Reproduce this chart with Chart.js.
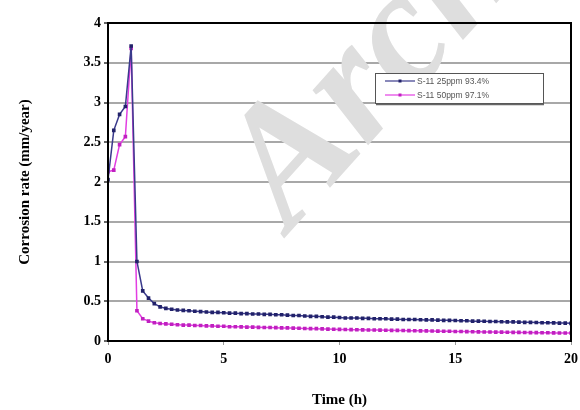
<!DOCTYPE html>
<html>
<head>
<meta charset="utf-8">
<script src="https://cdn.jsdelivr.net/npm/chart.js@4/dist/chart.umd.min.js"></script>
<style>
  html, body { margin: 0; padding: 0; background: #ffffff; }
  #wrap { width: 580px; height: 410px; }
</style>
</head>
<body>
<div id="wrap"><canvas id="c" width="580" height="410"></canvas></div>
<script>
// ---- data ----
const timeHours = [
  0, 0.25, 0.5, 0.75, 1, 1.25, 1.5, 1.75, 2, 2.25, 2.5, 2.75, 3, 3.25, 3.5, 3.75,
  4, 4.25, 4.5, 4.75, 5, 5.25, 5.5, 5.75, 6, 6.25, 6.5, 6.75, 7, 7.25, 7.5, 7.75,
  8, 8.25, 8.5, 8.75, 9, 9.25, 9.5, 9.75, 10, 10.25, 10.5, 10.75, 11, 11.25, 11.5, 11.75,
  12, 12.25, 12.5, 12.75, 13, 13.25, 13.5, 13.75, 14, 14.25, 14.5, 14.75, 15, 15.25, 15.5, 15.75,
  16, 16.25, 16.5, 16.75, 17, 17.25, 17.5, 17.75, 18, 18.25, 18.5, 18.75, 19, 19.25, 19.5, 19.75, 20
];
const rate25ppm = [
  2.03, 2.65, 2.85, 2.95, 3.71, 1.00, 0.63, 0.54, 0.47, 0.43, 0.41, 0.40, 0.39, 0.385, 0.38, 0.375,
  0.37, 0.365, 0.36, 0.36, 0.355, 0.35, 0.35, 0.345, 0.345, 0.34, 0.34, 0.335, 0.335, 0.33, 0.33, 0.325,
  0.32, 0.32, 0.315, 0.31, 0.31, 0.305, 0.30, 0.30, 0.295, 0.29, 0.29, 0.29, 0.285, 0.285, 0.28, 0.28,
  0.28, 0.275, 0.275, 0.27, 0.27, 0.27, 0.268, 0.265, 0.265, 0.262, 0.26, 0.26, 0.258, 0.255, 0.255, 0.25,
  0.25, 0.248, 0.245, 0.245, 0.242, 0.24, 0.24, 0.238, 0.235, 0.235, 0.232, 0.23, 0.23, 0.228, 0.225, 0.225, 0.222
];
const rate50ppm = [
  2.13, 2.15, 2.47, 2.57, 3.68, 0.38, 0.28, 0.25, 0.23, 0.22, 0.215, 0.21, 0.205, 0.20, 0.20, 0.195,
  0.195, 0.19, 0.19, 0.185, 0.185, 0.18, 0.18, 0.178, 0.175, 0.175, 0.172, 0.17, 0.17, 0.168, 0.165, 0.165,
  0.162, 0.16, 0.158, 0.155, 0.155, 0.152, 0.15, 0.148, 0.146, 0.145, 0.143, 0.142, 0.14, 0.139, 0.138, 0.137,
  0.135, 0.134, 0.133, 0.132, 0.13, 0.129, 0.128, 0.127, 0.125, 0.124, 0.123, 0.122, 0.12, 0.119, 0.118, 0.117,
  0.115, 0.114, 0.113, 0.112, 0.111, 0.11, 0.109, 0.108, 0.107, 0.106, 0.105, 0.104, 0.103, 0.102, 0.101, 0.10, 0.10
];
const seriesLabels = ["S-11 25ppm 93.4%", "S-11 50ppm 97.1%"];
const xTitle = "Time (h)";
const yTitle = "Corrosion rate (mm/year)";
const watermarkText = "Archive of SID";

const toPoints = (ys) => timeHours.map((t, i) => ({ x: t, y: ys[i] }));

const serif = "'Liberation Serif', 'Times New Roman', serif";

const framePlugin = {
  id: 'frame',
  beforeDatasetsDraw(chart) {
    const { ctx } = chart;
    // watermark
    ctx.save();
    ctx.translate(290, 232);
    ctx.rotate(-48 * Math.PI / 180);
    ctx.font = "italic bold 170px " + serif;
    ctx.fillStyle = "#dedede";
    ctx.textBaseline = "alphabetic";
    ctx.fillText(watermarkText, 0, 0);
    ctx.restore();
  },
  afterDraw(chart) {
    const { ctx, chartArea: a } = chart;
    ctx.save();
    ctx.strokeStyle = "#000";
    ctx.lineWidth = 2;
    ctx.strokeRect(a.left, a.top, a.right - a.left, a.bottom - a.top);
    ctx.restore();

    // legend box
    const bx = 375, by = 73, bw = 168, bh = 30;
    ctx.save();
    ctx.fillStyle = "#fff";
    ctx.fillRect(bx, by, bw, bh);
    ctx.strokeStyle = "#555";
    ctx.lineWidth = 1;
    ctx.strokeRect(bx + 0.5, by + 0.5, bw, bh);
    ctx.strokeStyle = "#666";
    ctx.lineWidth = 1.5;
    ctx.beginPath();
    ctx.moveTo(bx + 1, by + bh + 1.5);
    ctx.lineTo(bx + bw + 1, by + bh + 1.5);
    ctx.stroke();
    chart.data.datasets.forEach((ds, i) => {
      const y = by + 8 + i * 14;
      ctx.strokeStyle = ds.borderColor;
      ctx.lineWidth = 1.2;
      ctx.beginPath();
      ctx.moveTo(bx + 10, y);
      ctx.lineTo(bx + 40, y);
      ctx.stroke();
      ctx.fillStyle = ds.pointBackgroundColor;
      ctx.fillRect(bx + 23.5, y - 1.5, 3, 3);
      ctx.fillStyle = "#555";
      ctx.font = "8.5px 'Liberation Sans', Arial, sans-serif";
      ctx.textBaseline = "middle";
      ctx.fillText(ds.label, bx + 42, y + 0.5);
    });
    ctx.restore();
  }
};

new Chart(document.getElementById('c'), {
  type: 'line',
  data: {
    datasets: [
      {
        label: seriesLabels[0],
        data: toPoints(rate25ppm),
        borderColor: "#3a3a8c",
        backgroundColor: "#22226a",
        pointBackgroundColor: "#22226a",
        pointBorderColor: "#22226a",
        pointStyle: 'rect',
        pointRadius: 1.5,
        borderWidth: 1.5,
        tension: 0
      },
      {
        label: seriesLabels[1],
        data: toPoints(rate50ppm),
        borderColor: "#e23ee2",
        backgroundColor: "#c020c0",
        pointBackgroundColor: "#c020c0",
        pointBorderColor: "#c020c0",
        pointStyle: 'rect',
        pointRadius: 1.5,
        borderWidth: 1.5,
        tension: 0
      }
    ]
  },
  options: {
    responsive: false,
    devicePixelRatio: 1,
    animation: false,
    layout: { padding: { top: 23, right: 9, bottom: 0, left: 0 } },
    plugins: {
      legend: { display: false },
      tooltip: { enabled: false }
    },
    scales: {
      x: {
        type: 'linear',
        min: 0, max: 20,
        ticks: { stepSize: 5, color: "#000", font: { family: serif, size: 14, weight: 'bold' }, padding: 6, maxRotation: 0 },
        grid: { drawOnChartArea: false, drawTicks: true, tickLength: 4, tickColor: "#999" },
        border: { display: true, color: "#000", width: 2 },
        title: { display: true, text: xTitle, color: "#000", font: { family: serif, size: 15, weight: 'bold' }, padding: { top: 0, bottom: 1 } },
        afterFit(scale) { scale.height = 69; scale.paddingLeft = 0; scale.paddingRight = 0; }
      },
      y: {
        min: 0, max: 4,
        ticks: {
          stepSize: 0.5, color: "#000", font: { family: serif, size: 14, weight: 'bold' }, padding: 3,
          callback: (v) => String(Math.round(v * 10) / 10)
        },
        grid: { color: "#a8a8a8", lineWidth: 2, drawTicks: true, tickLength: 4, tickColor: "#666" },
        border: { display: true, color: "#000", width: 2 },
        title: { display: true, text: yTitle, color: "#000", font: { family: serif, size: 15, weight: 'bold' }, padding: { top: 16, bottom: 0 } },
        afterFit(scale) { scale.width = 108; scale.paddingTop = 0; scale.paddingBottom = 0; }
      }
    }
  },
  plugins: [framePlugin]
});
</script>
</body>
</html>
